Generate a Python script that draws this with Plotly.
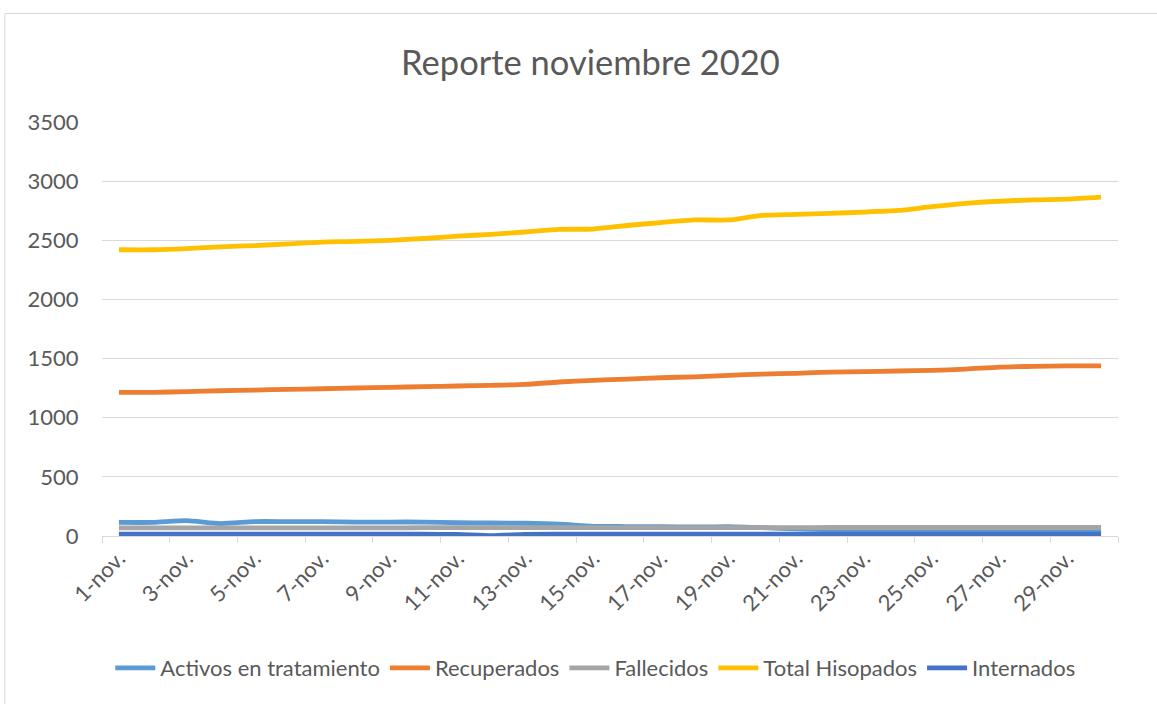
import plotly.graph_objects as go

categories = ["1-nov.", "2-nov.", "3-nov.", "4-nov.", "5-nov.", "6-nov.", "7-nov.", "8-nov.", "9-nov.", "10-nov.",
              "11-nov.", "12-nov.", "13-nov.", "14-nov.", "15-nov.", "16-nov.", "17-nov.", "18-nov.", "19-nov.", "20-nov.",
              "21-nov.", "22-nov.", "23-nov.", "24-nov.", "25-nov.", "26-nov.", "27-nov.", "28-nov.", "29-nov.", "30-nov."]

activos = [115, 115, 130, 105, 122, 122, 122, 118, 118, 118, 112, 110, 108, 100, 82,
           80, 78, 76, 80, 70, 60, 52, 50, 50, 50, 50, 50, 50, 50, 50]
recuperados = [1215, 1215, 1220, 1228, 1234, 1240, 1245, 1251, 1257, 1262, 1268, 1274, 1282, 1302, 1316,
               1327, 1338, 1346, 1358, 1369, 1375, 1386, 1389, 1395, 1400, 1411, 1428, 1434, 1439, 1439]
fallecidos = [68, 68, 68, 68, 69, 69, 69, 69, 69, 70, 70, 70, 70, 70, 71,
              71, 71, 71, 71, 71, 71, 72, 72, 72, 72, 72, 72, 72, 72, 72]
total_hisopados = [2420, 2420, 2430, 2445, 2455, 2470, 2485, 2490, 2500, 2515, 2535, 2550, 2570, 2592, 2595,
                   2625, 2650, 2672, 2672, 2711, 2719, 2728, 2738, 2752, 2784, 2812, 2830, 2842, 2848, 2865]
internados = [15, 15, 15, 15, 15, 15, 15, 15, 15, 15, 13, 3, 14, 15, 15,
              15, 15, 15, 15, 15, 15, 15, 15, 15, 15, 15, 15, 15, 15, 15]

series_names = ["Activos en tratamiento", "Recuperados", "Fallecidos", "Total Hisopados", "Internados"]
series_values = [activos, recuperados, fallecidos, total_hisopados, internados]
colors = ["#5B9BD5", "#ED7D31", "#A5A5A5", "#FFC000", "#4472C4"]

y_ticks = [0, 500, 1000, 1500, 2000, 2500, 3000, 3500]

FONT = "Lato"
TXT = "#595959"

x_pos = list(range(1, len(categories) + 1))
label_pos = x_pos[::2]
label_txt = categories[::2]
boundaries = [p - 0.5 for p in x_pos[::2]] + [x_pos[-1] + 0.5]

fig = go.Figure()
for name, vals, col in zip(series_names, series_values, colors):
    fig.add_trace(go.Scatter(
        x=x_pos, y=vals, name=name, mode="lines",
        line=dict(color=col, width=4.8, shape="spline", smoothing=0.6),
    ))

W, H = 1157, 704
L, R, T, B = 101.7, 1157 - 1117.7, 122, 704 - 536
pw, ph = W - L - R, H - T - B

def px(x):
    return (x - L) / pw

def py(y):
    return (H - B - y) / ph

fig.update_layout(
    width=W, height=H,
    margin=dict(l=L, r=R, t=T, b=B, autoexpand=False),
    paper_bgcolor="white", plot_bgcolor="white",
    font=dict(family=FONT, size=22, color=TXT),
    title=dict(text="Reporte noviembre 2020", x=590.5 / W, xanchor="center",
               y=1 - 63 / H, yanchor="middle",
               font=dict(family=FONT, size=34.5, color=TXT)),
    showlegend=True,
    legend=dict(orientation="h", x=px(595), xanchor="center", y=py(668), yanchor="middle",
                font=dict(family=FONT, size=22, color=TXT), itemwidth=40,
                tracegroupgap=0, bgcolor="rgba(0,0,0,0)"),
    xaxis=dict(
        range=[0.5, len(categories) + 0.5],
        tickmode="array", tickvals=label_pos, ticktext=label_txt,
        tickangle=-45, ticks="", showgrid=False, zeroline=False,
        showline=True, linecolor="#D9D9D9", linewidth=1,
        tickfont=dict(family=FONT, size=22, color=TXT),
        minor=dict(tickmode="array", tickvals=boundaries, ticks="outside",
                   ticklen=6, tickcolor="#D9D9D9", tickwidth=1, showgrid=False),
    ),
    yaxis=dict(
        range=[0, 3500], tickmode="array", tickvals=y_ticks,
        showgrid=True, gridcolor="#D9D9D9", gridwidth=1, zeroline=False,
        showline=False, ticks="outside", ticklen=18, tickcolor="rgba(0,0,0,0)",
        tickfont=dict(family=FONT, size=22, color=TXT),
    ),
    shapes=[dict(type="rect", xref="paper", yref="paper",
                 x0=px(4.5), x1=px(1162), y0=py(13.5), y1=py(712),
                 line=dict(color="#D9D9D9", width=1), fillcolor="rgba(0,0,0,0)", layer="below")],
)

fig.write_html("out.html", config={"displayModeBar": False},
               post_script="document.body.style.margin='0';")
